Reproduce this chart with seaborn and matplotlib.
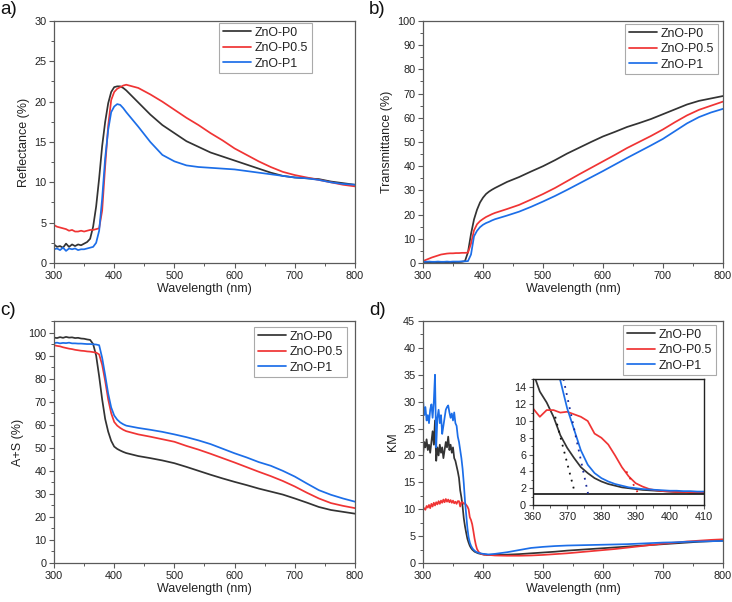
import numpy as np
import seaborn as sns
import matplotlib
matplotlib.use("Agg")
import matplotlib.pyplot as plt
from matplotlib.ticker import MultipleLocator

# ---- data ----
labels = ["ZnO-P0", "ZnO-P0.5", "ZnO-P1"]
colors = ["#333333", "#f03434", "#1c6ee8"]

# common grid for panels a-c
wl = list(range(300, 425, 5)) + list(range(440, 820, 20))

refl_p0 = [2.3, 2.0, 2.1, 1.9, 2.4, 2.0, 2.3, 2.1, 2.3, 2.2, 2.4, 2.6, 3.0, 4.5, 7.0, 10.5, 14.5,
           17.5, 19.8, 21.2, 21.8, 21.9, 21.9, 21.7, 21.4,
           19.9, 18.4, 17.1, 16.1, 15.1, 14.4, 13.7, 13.2, 12.7, 12.2, 11.7, 11.2, 10.8, 10.6,
           10.5, 10.4, 10.1, 9.9, 9.7]
refl_p05 = [4.7, 4.5, 4.4, 4.3, 4.2, 4.0, 4.1, 3.9, 3.9, 4.0, 3.9, 4.0, 4.1, 4.1, 4.2, 4.3, 6.5,
            12.0, 17.0, 20.2, 21.2, 21.6, 21.8, 22.0, 22.1,
            21.7, 20.9, 20.0, 19.0, 18.0, 17.1, 16.1, 15.2, 14.2, 13.4, 12.6, 11.9, 11.3, 10.9,
            10.6, 10.3, 10.0, 9.7, 9.5]
refl_p1 = [1.7, 1.8, 1.6, 1.9, 1.5, 1.8, 1.7, 1.8, 1.6, 1.7, 1.7, 1.8, 1.9, 2.0, 2.5, 4.0, 8.0,
           13.0, 16.5, 18.7, 19.4, 19.7, 19.6, 19.2, 18.7,
           16.9, 15.0, 13.4, 12.6, 12.1, 11.9, 11.8, 11.7, 11.6, 11.4, 11.2, 11.0, 10.8, 10.6,
           10.5, 10.3, 10.0, 9.8, 9.7]

trans_p0 = [0.3, 0.3, 0.4, 0.3, 0.3, 0.4, 0.3, 0.3, 0.4, 0.3, 0.3, 0.4, 0.4, 0.5, 0.8, 4.5, 12.0,
            18.0, 22.0, 25.0, 27.0, 28.5, 29.5, 30.3, 31.0,
            33.5, 35.5, 37.8, 40.0, 42.5, 45.2, 47.6, 50.0, 52.3, 54.2, 56.2, 57.8, 59.5, 61.5,
            63.5, 65.5, 67.0, 68.0, 69.0]
trans_p05 = [0.8, 1.3, 1.8, 2.3, 2.7, 3.1, 3.5, 3.7, 3.9, 4.0, 4.0, 4.1, 4.1, 4.2, 4.2, 4.3, 8.0,
             13.5, 16.0, 17.3, 18.2, 19.0, 19.6, 20.2, 20.7,
             22.3, 24.0, 26.2, 28.5, 31.0, 33.8, 36.6, 39.3, 42.0, 44.7, 47.5, 50.0, 52.5, 55.2,
             58.2, 61.0, 63.3, 65.0, 66.7]
trans_p1 = [0.5, 0.5, 0.6, 0.5, 0.5, 0.6, 0.5, 0.5, 0.6, 0.5, 0.6, 0.6, 0.6, 0.7, 0.7, 0.8, 3.5,
            11.0, 13.3, 14.8, 15.8, 16.5, 17.0, 17.6, 18.1,
            19.6, 21.2, 23.2, 25.4, 27.7, 30.2, 32.8, 35.4, 38.0, 40.7, 43.4, 46.0, 48.6, 51.3,
            54.5, 57.7, 60.3, 62.2, 63.7]

as_p0 = [97.8, 97.6, 98.0, 97.7, 98.1, 97.8, 97.9, 97.6, 97.7, 97.4, 97.3, 97.0, 96.8, 95.0, 90.0,
         81.0, 71.0, 62.5, 57.0, 53.0, 50.5, 49.5, 48.8, 48.2, 47.7,
         46.4, 45.5, 44.5, 43.3, 41.7, 40.0, 38.3, 36.7, 35.2, 33.8, 32.3, 31.0, 29.7, 28.0,
         26.2, 24.3, 23.0, 22.2, 21.4]
as_p05 = [94.5, 94.2, 94.0, 93.6, 93.3, 93.0, 92.8, 92.5, 92.3, 92.1, 92.0, 91.8, 91.7, 91.5, 91.3,
          90.5, 86.0, 79.0, 71.0, 65.0, 61.2, 59.6, 58.6, 57.8, 57.2,
          55.8, 54.8, 53.7, 52.6, 50.8, 49.2, 47.4, 45.5, 43.6, 41.6, 39.6, 37.7, 35.6, 33.2,
          30.5, 28.0, 26.0, 24.8, 23.8]
as_p1 = [95.4, 95.6, 95.3, 95.5, 95.4, 95.6, 95.3, 95.3, 95.2, 95.2, 95.1, 95.0, 95.0, 94.9, 94.8,
         94.5, 89.0, 81.5, 73.5, 67.5, 64.0, 62.2, 61.0, 60.2, 59.6,
         58.6, 57.8, 56.9, 55.8, 54.6, 53.2, 51.6, 49.6, 47.6, 45.8, 43.8, 42.2, 40.0, 37.5,
         34.5, 31.6, 29.6, 28.0, 26.6]

# finer grid for the KM panel
wl_km = list(range(300, 362, 2)) + list(range(362, 412, 2)) + list(range(420, 820, 20))

km_p0 = [20.0, 22.5, 21.5, 23.0, 21.0, 22.0, 20.5, 22.5, 24.5, 22.0, 26.5, 19.0, 21.5, 20.0, 22.0,
         20.5, 21.5, 19.5, 21.0, 22.5, 21.5, 23.5, 21.0, 22.0, 20.5, 21.5, 19.5, 19.0, 18.0, 17.0, 15.8,
         13.5, 12.2, 10.5, 8.3, 6.8, 5.6, 4.5, 3.8, 3.2, 2.8, 2.5, 2.3, 2.1, 2.0, 1.9, 1.8, 1.75,
         1.7, 1.65, 1.6, 1.55, 1.55, 1.5, 1.5, 1.5,
         1.5, 1.55, 1.65, 1.8, 1.95, 2.1, 2.3, 2.45, 2.6, 2.75, 2.9, 3.05, 3.2, 3.35, 3.5, 3.65,
         3.8, 3.95, 4.05, 4.15]
km_p05 = [9.8, 10.2, 9.9, 10.6, 10.3, 10.8, 10.2, 11.0, 10.5, 11.2, 10.7, 11.3, 10.9, 11.5, 11.0,
          11.6, 11.2, 11.8, 11.3, 11.9, 11.4, 11.8, 11.3, 11.7, 11.2, 11.6, 11.1, 11.4, 11.0, 11.5, 11.5,
          10.5, 11.3, 11.3, 11.0, 11.1, 10.8, 10.5, 10.0, 8.5, 8.0, 7.2, 5.9, 4.5, 3.4, 2.6, 2.2, 1.9,
          1.75, 1.65, 1.6, 1.55, 1.55, 1.5, 1.5, 1.5,
          1.4, 1.35, 1.35, 1.4, 1.5, 1.65, 1.8, 2.0, 2.2, 2.4, 2.6, 2.85, 3.1, 3.35, 3.6, 3.8,
          4.0, 4.15, 4.3, 4.4]
km_p1 = [30.5, 27.5, 29.0, 26.5, 27.5, 26.0, 28.5, 29.5, 27.0, 30.0, 35.0, 21.5, 27.0, 28.5, 26.0,
         27.5, 24.0, 25.5, 27.0, 28.5, 29.0, 29.3, 28.0, 27.0, 27.8, 26.5, 28.0, 26.0, 25.5, 23.5, 22.5,
         21.0, 19.5, 17.5, 14.8, 11.5, 9.0, 6.5, 4.8, 3.8, 3.2, 2.8, 2.5, 2.3, 2.1, 2.0, 1.9, 1.85,
         1.8, 1.75, 1.7, 1.7, 1.65, 1.65, 1.6, 1.6,
         1.7, 2.0, 2.4, 2.8, 3.0, 3.15, 3.25, 3.3, 3.35, 3.4, 3.45, 3.5, 3.6, 3.7, 3.8, 3.85,
         3.95, 4.0, 4.05, 4.1]

# band-edge tangent lines and baseline in the inset
tan_p0_x, tan_p0_y = [366.5, 372.3], [10.5, 1.35]
tan_p05_x, tan_p05_y = [387.3, 390.8], [4.0, 1.35]
tan_p1_x, tan_p1_y = [368.9, 376.1], [15.0, 1.35]
km_baseline = 1.35

# ---- style ----
sns.set_theme(style="white")
plt.rcParams["font.family"] = ["Liberation Sans", "DejaVu Sans"]
plt.rcParams["axes.edgecolor"] = "#5a5a5a"
plt.rcParams["xtick.color"] = "#5a5a5a"
plt.rcParams["ytick.color"] = "#5a5a5a"
plt.rcParams["xtick.labelcolor"] = "#222222"
plt.rcParams["ytick.labelcolor"] = "#222222"

fig = plt.figure(figsize=(7.32, 6.02), dpi=100)
W, H = 732, 602


def px_axes(x0, y0, x1, y1):
    return fig.add_axes([x0 / W, 1 - y1 / H, (x1 - x0) / W, (y1 - y0) / H])


ax_a = px_axes(54, 21, 355, 263)
ax_b = px_axes(423, 21, 723, 263)
ax_c = px_axes(54, 321, 355, 563)
ax_d = px_axes(423, 321, 723, 563)


def draw(ax, x, series, ylabel, ylim, ymajor, yminor, leg_anchor):
    for vals, lab, col in zip(series, labels, colors):
        sns.lineplot(x=x, y=vals, ax=ax, color=col, label=lab, linewidth=1.25)
    ax.set_xlim(300, 800)
    ax.set_ylim(*ylim)
    ax.xaxis.set_major_locator(MultipleLocator(100))
    ax.xaxis.set_minor_locator(MultipleLocator(50))
    ax.yaxis.set_major_locator(MultipleLocator(ymajor))
    ax.yaxis.set_minor_locator(MultipleLocator(yminor))
    ax.tick_params(which="major", direction="out", length=3.5, width=0.8, labelsize=7.8, pad=2,
                   bottom=True, left=True)
    ax.tick_params(which="minor", direction="out", length=2, width=0.7, bottom=True, left=True)
    for sp in ax.spines.values():
        sp.set_linewidth(0.9)
    ax.set_xlabel("Wavelength (nm)", fontsize=9, labelpad=2, color="#222222")
    ax.set_ylabel(ylabel, fontsize=9, labelpad=3, color="#222222")
    leg = ax.legend(loc="upper right", bbox_to_anchor=leg_anchor, fontsize=8.9, frameon=True,
                    fancybox=False, edgecolor="#aaaaaa", framealpha=1, handlelength=2.3,
                    labelspacing=0.28, borderpad=0.3, handletextpad=0.3, borderaxespad=0)
    leg.get_frame().set_linewidth(0.8)
    for t in leg.get_texts():
        t.set_color("#222222")


draw(ax_a, wl, [refl_p0, refl_p05, refl_p1], "Reflectance (%)", (0, 30), 5, 2.5, (0.857, 0.992))
draw(ax_b, wl, [trans_p0, trans_p05, trans_p1], "Transmittance (%)", (0, 100), 10, 5, (0.983, 0.988))
draw(ax_c, wl, [as_p0, as_p05, as_p1], "A+S (%)", (0, 105), 10, 5, (0.973, 0.975))
draw(ax_d, wl_km, [km_p0, km_p05, km_p1], "KM", (0, 45), 5, 2.5, (0.977, 0.983))

# inset
ax_in = px_axes(533, 379, 704, 505)
for vals, col in zip([km_p0, km_p05, km_p1], colors):
    sns.lineplot(x=wl_km, y=vals, ax=ax_in, color=col, linewidth=1.25, legend=False)
ax_in.axhline(km_baseline, color="#111111", linewidth=1.2)
ax_in.plot(tan_p0_x, tan_p0_y, linestyle=(0, (1, 3)), color="#111111", linewidth=1.3)
ax_in.plot(tan_p1_x, tan_p1_y, linestyle=(0, (1, 3)), color="#1a2a9a", linewidth=1.3)
ax_in.plot(tan_p05_x, tan_p05_y, linestyle=(0, (1, 3)), color="#e02020", linewidth=1.3)
ax_in.set_xlim(360, 410)
ax_in.set_ylim(0, 15)
ax_in.xaxis.set_major_locator(MultipleLocator(10))
ax_in.xaxis.set_minor_locator(MultipleLocator(5))
ax_in.yaxis.set_major_locator(MultipleLocator(2))
ax_in.yaxis.set_minor_locator(MultipleLocator(1))
ax_in.tick_params(which="major", direction="out", length=3, width=0.8, labelsize=7.8, pad=2,
                  bottom=True, left=True)
ax_in.tick_params(which="minor", direction="out", length=1.8, width=0.7, bottom=True, left=True)
ax_in.set_xlabel("")
ax_in.set_ylabel("")
for sp in ax_in.spines.values():
    sp.set_color("#222222")
    sp.set_linewidth(1.0)

# panel letters
for txt, (px, py) in zip(["a)", "b)", "c)", "d)"], [(0, 1), (369, 1), (0, 302), (369, 302)]):
    fig.text(px / W, 1 - py / H, txt, fontsize=13.5, va="top", ha="left", color="#111111")

plt.savefig("out.png", dpi=100)
